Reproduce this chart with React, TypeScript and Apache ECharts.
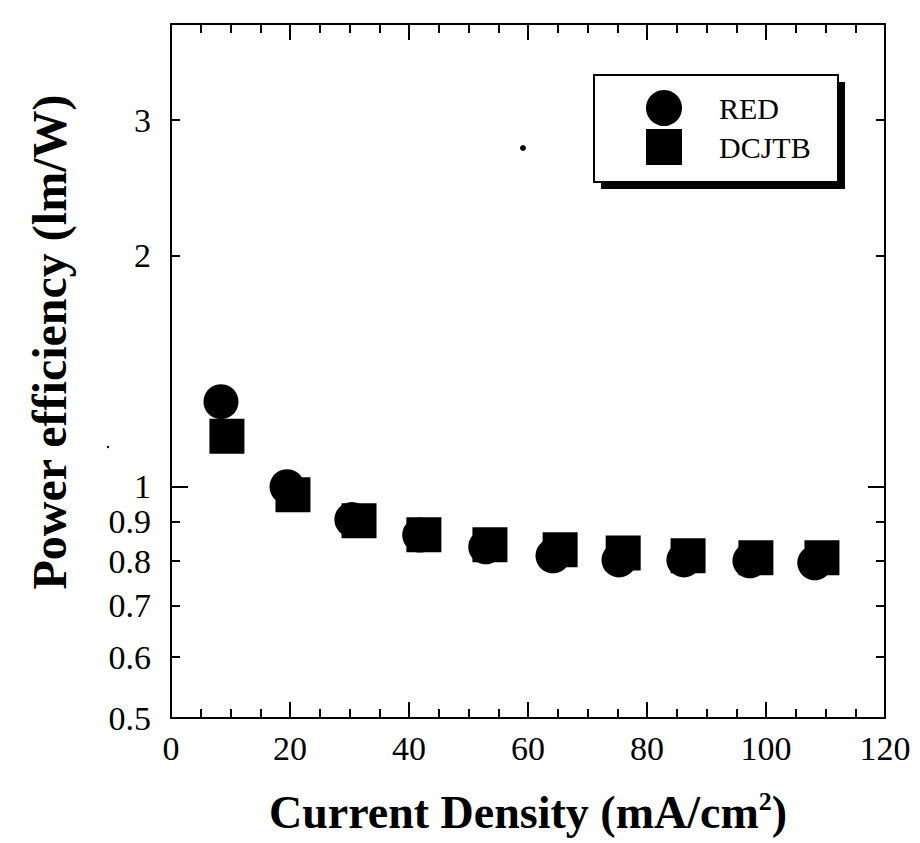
import React, { useEffect, useRef } from "react";
import * as echarts from "echarts";

// ---- data ----
const redX = [8.4, 19.5, 30.4, 41.8, 52.9, 64.2, 75.3, 86.2, 97.3, 108.2];
const redY = [1.29, 1.0, 0.906, 0.865, 0.835, 0.813, 0.803, 0.803, 0.801, 0.796];
const dcjtbX = [9.4, 20.5, 31.6, 42.5, 53.6, 65.4, 76.0, 86.9, 98.3, 109.4];
const dcjtbY = [1.163, 0.976, 0.903, 0.866, 0.84, 0.828, 0.82, 0.813, 0.808, 0.808];
const seriesNames = ["RED", "DCJTB"];
const yLabelValues = [0.5, 0.6, 0.7, 0.8, 0.9, 1, 2, 3];
const yMinorTickValues = [0.6, 0.7, 0.8, 0.9, 2, 3];
const yMajorTickValues = [1];
const xMin = 0;
const xMax = 120;
const xInterval = 20;
const yMin = 0.5;
const yMax = 4;

const FONT = '"Liberation Serif", "Times New Roman", serif';

export default function App() {
  const ref = useRef<HTMLDivElement>(null);
  useEffect(() => {
    if (!ref.current) return;
    const chart = echarts.init(ref.current, undefined, { renderer: "svg" });
    const line = { show: true, lineStyle: { color: "#000", width: 2 } };
    const baseX = (pos: "bottom" | "top", labels: boolean) => ({
      type: "value",
      position: pos,
      min: xMin,
      max: xMax,
      interval: xInterval,
      axisLine: line,
      axisTick: { show: true, inside: true, length: 16, lineStyle: { color: "#000", width: 2 } },
      minorTick: { show: true, splitNumber: 4, length: 9, lineStyle: { color: "#000", width: 2 } },
      splitLine: { show: false },
      axisLabel: labels
        ? { show: true, color: "#000", fontFamily: FONT, fontSize: 34, margin: 13 }
        : { show: false },
    });
    const baseY = (pos: "left" | "right", ticks: number[], len: number, labels: boolean, showLine: boolean) => ({
      type: "log",
      logBase: 10,
      position: pos,
      min: yMin,
      max: yMax,
      axisLine: showLine ? line : { show: false },
      axisTick: { show: true, inside: true, length: len, customValues: ticks, lineStyle: { color: "#000", width: 2 } },
      splitLine: { show: false },
      minorTick: { show: false },
      axisLabel: labels
        ? {
            show: true,
            customValues: yLabelValues,
            color: "#000",
            fontFamily: FONT,
            fontSize: 34,
            margin: 20,
            formatter: (v: number) => String(Math.round(v * 10) / 10),
          }
        : { show: false },
    });

    const yAxes: any[] = [
      {
        ...baseY("left", yMinorTickValues, 9, true, true),
        name: "Power efficiency (lm/W)",
        nameLocation: "middle",
        nameGap: 98,
        nameTextStyle: { fontFamily: FONT, fontSize: 48, fontWeight: "bold", color: "#000", padding: [0, 0, 0, 58] },
      },
      baseY("left", yMajorTickValues, 17, false, false),
      baseY("right", yMinorTickValues, 9, false, true),
      baseY("right", yMajorTickValues, 17, false, false),
    ];

    chart.setOption({
      animation: false,
      backgroundColor: "#fff",
      grid: { left: 171, right: 35, top: 24, bottom: 125, containLabel: false },
      xAxis: [
        {
          ...baseX("bottom", true),
          name: "Current Density (mA/cm{sup|2})",
          nameLocation: "middle",
          nameGap: 70,
          nameTextStyle: {
            fontFamily: FONT,
            fontSize: 46,
            fontWeight: "bold",
            color: "#000",
            rich: {
              sup: { fontFamily: FONT, fontSize: 26, fontWeight: "bold", color: "#000", verticalAlign: "top", padding: [0, 0, 22, 0] },
            },
          },
        },
        baseX("top", false),
      ],
      yAxis: yAxes,
      legend: {
        show: true,
        orient: "vertical",
        left: 646,
        top: 90,
        itemWidth: 36,
        itemHeight: 36,
        itemGap: 3,
        padding: 0,
        z: 10,
        data: seriesNames,
        itemStyle: { opacity: 1 },
        textStyle: { fontFamily: FONT, fontSize: 30, color: "#000", padding: [0, 0, 0, 32] },
      },
      graphic: [
        { type: "rect", z: 1, shape: { x: 601, y: 82, width: 244, height: 107 }, style: { fill: "#000" } },
        { type: "rect", z: 2, shape: { x: 594, y: 75, width: 244, height: 107 }, style: { fill: "#fff", stroke: "#000", lineWidth: 2 } },
        { type: "circle", z: 2, shape: { cx: 523, cy: 148, r: 3 }, style: { fill: "#000" } },
        { type: "circle", z: 2, shape: { cx: 108, cy: 447, r: 1.2 }, style: { fill: "#000" } },
      ],
      series: [
        {
          name: seriesNames[0],
          type: "scatter",
          symbol: "circle",
          symbolSize: 35,
          itemStyle: { color: "#000", opacity: 1 },
          emphasis: { disabled: true },
          xAxisIndex: 0,
          yAxisIndex: 0,
          data: redX.map((x, i) => [x, redY[i]]),
        },
        {
          name: seriesNames[1],
          type: "scatter",
          symbol: "rect",
          symbolSize: 35,
          itemStyle: { color: "#000", opacity: 1 },
          emphasis: { disabled: true },
          xAxisIndex: 0,
          yAxisIndex: 0,
          data: dcjtbX.map((x, i) => [x, dcjtbY[i]]),
        },
      ],
    });
    return () => chart.dispose();
  }, []);
  return (
    <div
      ref={ref}
      style={{ position: "fixed", left: 0, top: 0, width: 920, height: 843, background: "#fff" }}
    />
  );
}
